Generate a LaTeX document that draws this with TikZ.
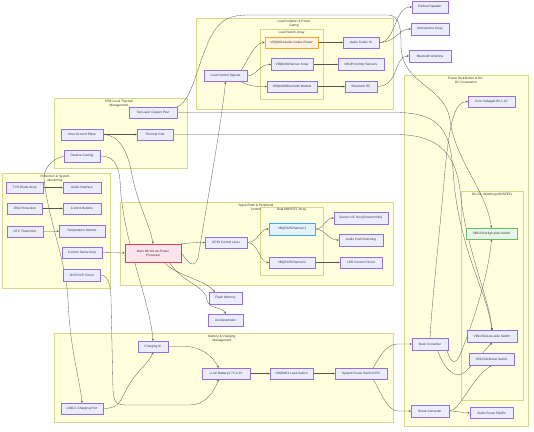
\documentclass[tikz,border=0pt]{standalone}
\usepackage{fontspec}
\setmainfont{Liberation Sans}
\usetikzlibrary{arrows.meta}
\pgfdeclarelayer{bg}
\pgfdeclarelayer{mid}
\pgfsetlayers{bg,mid,main}
\definecolor{nodef}{HTML}{ECECFF}
\definecolor{nodeb}{HTML}{9370DB}
\definecolor{clf}{HTML}{FFFFDE}
\definecolor{clb}{HTML}{D8D88A}
\definecolor{edgec}{HTML}{555555}
\definecolor{txtc}{HTML}{333333}
\definecolor{orf}{HTML}{FFF3E0}
\definecolor{orb}{HTML}{FFA726}
\definecolor{pkf}{HTML}{FCE4EC}
\definecolor{pkb}{HTML}{E53960}
\definecolor{blf}{HTML}{E3F2FD}
\definecolor{blb}{HTML}{42A5F5}
\definecolor{grf}{HTML}{E8F5E9}
\definecolor{grb}{HTML}{66BB6A}
\newcommand\fsz{\fontsize{3.2}{4}\selectfont}
\begin{document}
\begin{tikzpicture}[x=1pt,y=-1pt,
  box/.style={draw=nodeb, fill=nodef, line width=0.4pt, minimum height=11pt, inner sep=0pt, font=\fsz, text=txtc, align=center},
  orangebox/.style={box, draw=orb, fill=orf, line width=0.6pt},
  pinkbox/.style={box, draw=pkb, fill=pkf, line width=0.6pt},
  bluebox/.style={box, draw=blb, fill=blf, line width=0.6pt},
  greenbox/.style={box, draw=grb, fill=grf, line width=0.6pt},
  clus/.style={draw=clb, fill=clf, line width=0.4pt},
  ctitle/.style={font=\fsz, text=txtc, align=center, inner sep=0pt},
  edge/.style={draw=edgec, line width=0.3pt, -{Stealth[length=2.2pt,width=2pt]}}]
\useasboundingbox (0,0) rectangle (534,431);

\begin{pgfonlayer}{bg}
\fill[white] (0,0) rectangle (534,431);
\draw[clus] (196,18) rectangle (393,109);
\draw[clus] (260,29) rectangle (323,99);
\draw[clus] (404,75) rectangle (528,426);
\draw[clus] (461,191) rectangle (523,400);
\draw[clus] (54,98) rectangle (187,168);
\draw[clus] (2,173) rectangle (110,288);
\draw[clus] (120,202) rectangle (393,285);
\draw[clus] (260,207) rectangle (323,275);
\draw[clus] (54,333) rectangle (393,422);
\end{pgfonlayer}

% cluster titles
\node[ctitle] (tload) at (294,23.5) {Load Isolation \& Power\\Gating};
\node[ctitle] (tsw) at (291.5,32.5) {Load Switch Array};
\node[ctitle] (tpow) at (466,80.5) {Power Distribution \& DC-\\DC Conversion};
\node[ctitle] (tdc) at (492,194.5) {DC-DC Switching MOSFETs};
\node[ctitle] (tpcb) at (119,104) {PCB-Level Thermal\\Management};
\node[ctitle] (tprot) at (55,178.5) {Protection \& System\\Monitoring};
\node[ctitle] (tsig) at (256,207.5) {Signal Path \& Peripheral\\Control};
\node[ctitle] (tdual) at (291.5,210) {Dual MOSFET Array};
\node[ctitle] (tbat) at (222,338.5) {Battery \& Charging\\Management};

% Load isolation
\node[box, minimum width=43] (lcs) at (225.5,76) {Load Control Signals};
\node[orangebox, minimum width=53] (acp) at (291.5,42.5) {VBQ6401Audio Codec Power};
\node[box, minimum width=42, minimum height=12] (sarr) at (292,64.5) {VBQ6401Sensor Array};
\node[box, minimum width=50] (btm) at (292,86.5) {VBQ6401Bluetooth Module};
\node[box, minimum width=36] (aci) at (361,42.5) {Audio Codec IC};
\node[box, minimum width=46, minimum height=12] (imu) at (361,64.5) {IMU/Proximity Sensors};
\node[box, minimum width=32] (btrf) at (361,86.5) {Bluetooth RF};
\node[box, minimum width=36, minimum height=12] (ear) at (430,7) {Earbud Speaker};
\node[box, minimum width=38, minimum height=12] (mic) at (430,29) {Microphone Array};
\node[box, minimum width=42, minimum height=12] (ant) at (430,56) {Bluetooth Antenna};

% Power
\node[box, minimum width=47] (core) at (491.5,101.5) {Core Voltage0.8V-1.2V};
\node[greenbox, minimum width=51] (hs) at (491.5,233.5) {VBC2311High-side Switch};
\node[box, minimum width=50, minimum height=12] (ls) at (492,336.5) {VBC2311Low-side Switch};
\node[box, minimum width=45, minimum height=12] (bsw) at (491.5,359) {VBC2311Boost Switch};
\node[box, minimum width=36, minimum height=12] (buck) at (430,344) {Buck Converter};
\node[box, minimum width=38, minimum height=12] (boostc) at (430,411) {Boost Converter};
\node[box, minimum width=43] (apr) at (491.5,413) {Audio Power Rail5V};

% PCB thermal
\node[box, minimum width=48] (cop) at (153,112.5) {Top Layer Copper Pour};
\node[box, minimum width=42] (gnd) at (82,134.5) {Inner Ground Plane};
\node[box, minimum width=36] (vias) at (155,134.5) {Thermal Vias};
\node[box, minimum width=36, minimum height=12] (pas) at (82,156) {Passive Cooling};

% Protection
\node[box, minimum width=37] (tvs) at (25,187.5) {TVS Diode Array};
\node[box, minimum width=38] (ai) at (82,187.5) {Audio Interface};
\node[box, minimum width=35] (esd) at (25,208.5) {ESD Protection};
\node[box, minimum width=38] (cb) at (82,208.5) {Control Buttons};
\node[box, minimum width=36] (ntc) at (25,231.5) {NTC Thermistor};
\node[box, minimum width=46, minimum height=12] (tm) at (82,231) {Temperature Monitor};
\node[box, minimum width=40] (csa) at (82,252.5) {Current Sense Amp};
\node[box, minimum width=37, minimum height=12] (ovp) at (82,275) {OVP/UVP Circuit};

% Signal path
\node[pinkbox, minimum width=56, minimum height=18] (mcu) at (153,253) {Main MCU/Low-Power\\Processor};
\node[box, minimum width=42] (gpio) at (226,242.5) {GPIO Control Lines};
\node[bluebox, minimum width=46, minimum height=12] (ch1) at (292,229) {VBQ5325Channel 1};
\node[box, minimum width=46] (ch2) at (292,262.5) {VBQ5325Channel 2};
\node[box, minimum width=54, minimum height=12] (i2c) at (361,218) {Sensor I2C Bus(Sensors+Mic)};
\node[box, minimum width=44, minimum height=12] (aps) at (361,240) {Audio Path Switching};
\node[box, minimum width=42] (led) at (361,262.5) {LED Control Circuit};
\node[box, minimum width=33, minimum height=12] (flash) at (225.5,298) {Flash Memory};
\node[box, minimum width=35, minimum height=12] (acc) at (225.5,320) {Accelerometer};

% Battery
\node[box, minimum width=30] (chg) at (153,346.5) {Charging IC};
\node[box, minimum width=48] (bat) at (226,373.5) {Li-ion Battery3.7V-4.2V};
\node[box, minimum width=43] (vbqls) at (291.5,373.5) {VBQ6401 Load Switch};
\node[box, minimum width=52] (spr) at (361,373.5) {System Power Rail3.3V/5V};
\node[box, minimum width=42] (usb) at (82,408.5) {USB-C Charging Port};

\begin{pgfonlayer}{mid}
% load isolation
\draw[edge] (lcs.20) .. controls (248,60) and (255,42.5) .. (acp.west);
\draw[edge] (lcs.east) .. controls (256,76) and (259,64.5) .. (sarr.west);
\draw[edge] (lcs.-20) .. controls (250,86.5) and (255,86.5) .. (btm.west);
\draw[edge] (acp) -- (aci);
\draw[edge] (sarr) -- (imu);
\draw[edge] (btm) -- (btrf);
\draw[edge] (aci.east) .. controls (396,42.5) and (394,7) .. (ear.west);
\draw[edge] (aci.east) .. controls (396,42.5) and (398,29) .. (mic.west);
\draw[edge] (btrf.east) .. controls (399,86.5) and (394,56) .. (ant.west);
% thermal
\draw[edge] (gnd) -- (vias);
\draw[edge] (cop.north east) .. controls (196,100) and (200,40) .. (222,22) .. controls (230,16) and (238,15) .. (250,15) -- (388,15) .. controls (400,15) and (401,30) .. (401,45) .. controls (401,85) and (445,85) .. (450,120) .. controls (455,160) and (486,190) .. (hs.north);
\draw[edge] (cop.east) -- (395,112.5) .. controls (440,112.5) and (450,130) .. (453,170) .. controls (458,250) and (487,290) .. (ls.north);
\draw[edge] (vias.east) -- (395,134.5) .. controls (435,134.5) and (455,150) .. (460,190) .. controls (466,250) and (490,300) .. (ls.north);
\draw[edge] (gnd.east) .. controls (118,134.5) and (128,150) .. (132,175) .. controls (138,205) and (150,225) .. (mcu.north);
\draw[edge] (pas.east) .. controls (112,156) and (118,162) .. (120,180) .. controls (122,240) and (150,300) .. (chg.north);
\draw[edge] (pas.west) .. controls (55,158) and (44,166) .. (44,178) .. controls (48,220) and (66,260) .. (68,300) .. controls (70,350) and (80,380) .. (usb.north);
% protection
\draw[edge] (tvs) -- (ai);
\draw[edge] (esd) -- (cb);
\draw[edge] (ntc) -- (tm);
\draw[edge] (csa.east) -- (mcu.west);
\draw[edge] (ovp.east) .. controls (108,275) and (111,285) .. (111,300) -- (113,390) .. controls (114,405) and (118,405) .. (130,405) -- (190,405) .. controls (205,405) and (214,392) .. (bat.-142);
% signal
\draw[edge] (mcu.north east) .. controls (190,243) and (195,242.5) .. (gpio.west);
\draw[edge] (mcu.east) .. controls (188,262) and (193,270) .. (198,258) .. controls (205,215) and (222,120) .. (lcs.south);
\draw[edge] (mcu.-40) .. controls (175,275) and (205,280) .. (flash.150);
\draw[edge] (mcu.-30) .. controls (185,285) and (205,285) .. (207,300) .. controls (209,310) and (222,306) .. (acc.north);
\draw[edge] (gpio.east) .. controls (258,242.5) and (260,229) .. (ch1.west);
\draw[edge] (gpio.east) .. controls (258,242.5) and (260,262.5) .. (ch2.west);
\draw[edge] (ch1.east) .. controls (325,229) and (325,218) .. (i2c.west);
\draw[edge] (ch1.east) .. controls (325,229) and (328,240) .. (aps.west);
\draw[edge] (ch2) -- (led);
% battery
\draw[edge] (usb.east) .. controls (118,408.5) and (120,402) .. (125,392) .. controls (135,372) and (150,362) .. (chg.south);
\draw[edge] (chg.east) -- (185,346.5) .. controls (200,346.5) and (212,355) .. (bat.142);
\draw[edge] (bat) -- (vbqls);
\draw[edge] (vbqls) -- (spr);
\draw[edge] (spr.25) .. controls (382,352) and (388,344) .. (398,344) -- (buck.west);
\draw[edge] (spr.-25) .. controls (382,395) and (388,411) .. (398,411) -- (boostc.west);
% power
\draw[edge] (buck.north) .. controls (432,300) and (440,230) .. (445,170) .. controls (450,120) and (455,102) .. (core.west);
\draw[edge] (buck.-20) .. controls (450,362) and (455,366) .. (460,355) .. controls (470,330) and (488,280) .. (hs.south);
\draw[edge] (buck.-40) .. controls (445,370) and (455,380) .. (465,372) .. controls (475,362) and (485,350) .. (ls.south);
\draw[edge] (boostc.east) .. controls (460,411) and (470,380) .. (bsw.south);
\draw[edge] (boostc.east) .. controls (458,411) and (462,413) .. (apr.west);
\end{pgfonlayer}
\end{tikzpicture}
\end{document}
